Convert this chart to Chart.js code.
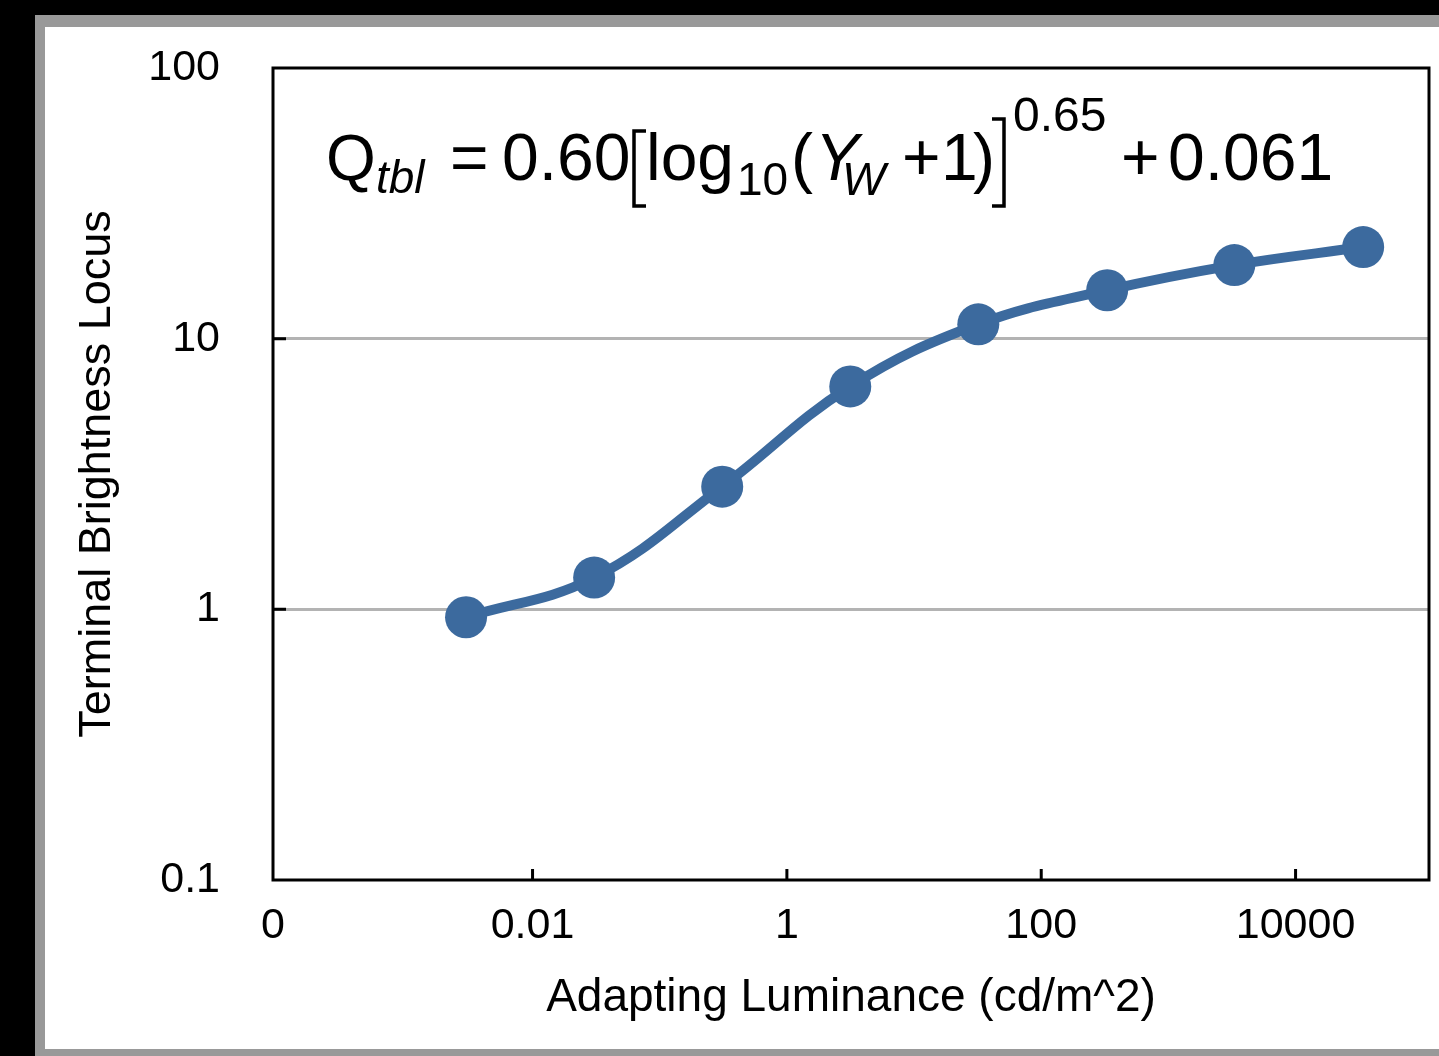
<!DOCTYPE html>
<html>
<head>
<meta charset="utf-8">
<script src="https://cdn.jsdelivr.net/npm/chart.js@4"></script>
<style>
  html, body { margin: 0; padding: 0; background: #000; }
  canvas { display: block; }
</style>
</head>
<body>
<canvas id="chart" width="1439" height="1056"></canvas>
<script>
// values
const luminance = [0.003, 0.0305, 0.31, 3.15, 32, 330, 3300, 34000];
const brightness = [0.935, 1.31, 2.84, 6.66, 11.3, 15.1, 18.7, 21.8];

const X_MIN = 9.1e-5;
const X_MAX = 1.12e5;
const xTicks = [X_MIN, 0.01, 1, 100, 10000];
const xTickLabels = ['0', '0.01', '1', '100', '10000'];
const yTicks = [0.1, 1, 10, 100];
const yTickLabels = ['0.1', '1', '10', '100'];
const yGridValues = [1, 10];

const FONT = '"Liberation Sans", Arial, Helvetica, sans-serif';
const BLUE = '#3c6a9e';

// panel behind the chart
const panel = {
  id: 'panel',
  beforeDraw(chart) {
    const ctx = chart.ctx;
    ctx.save();
    ctx.fillStyle = '#000';
    ctx.fillRect(0, 0, chart.width, chart.height);
    ctx.fillStyle = '#999';
    ctx.fillRect(35, 15, chart.width - 35, chart.height - 15);
    ctx.fillStyle = '#fff';
    ctx.fillRect(45, 27, chart.width - 45, 1049 - 27);
    ctx.restore();
  }
};

// plot box, inner tick marks and the equation
const frame = {
  id: 'frame',
  afterDraw(chart) {
    const ctx = chart.ctx;
    const a = chart.chartArea;
    const xs = chart.scales.x, ys = chart.scales.y;
    ctx.save();
    ctx.strokeStyle = '#000';
    ctx.lineWidth = 3;
    ctx.strokeRect(a.left, a.top, a.right - a.left, a.bottom - a.top);

    ctx.beginPath();
    yGridValues.forEach(v => {
      const y = ys.getPixelForValue(v);
      ctx.moveTo(a.left, y);
      ctx.lineTo(a.left + 13, y);
    });
    xTicks.slice(1).forEach(v => {
      const x = xs.getPixelForValue(v);
      ctx.moveTo(x, a.bottom);
      ctx.lineTo(x, a.bottom - 11);
    });
    ctx.stroke();

    // equation
    ctx.fillStyle = '#000';
    ctx.textBaseline = 'alphabetic';
    ctx.textAlign = 'left';
    const parts = [
      ['Q', 64, false, 326, 180],
      ['tbl', 46, true, 376, 193],
      ['=', 66, false, 450, 180],
      ['0.60', 66, false, 502, 180],
      ['log', 66, false, 646, 180],
      ['10', 46, false, 737, 195],
      ['(', 66, false, 791, 180],
      ['Y', 66, true, 815, 180],
      ['W', 46, true, 842, 195],
      ['+', 66, false, 902, 180],
      ['1', 66, false, 941, 180],
      [')', 66, false, 973, 180],
      ['0.65', 48, false, 1013, 131],
      ['+', 66, false, 1121, 180],
      ['0.061', 66, false, 1168, 180]
    ];
    parts.forEach(([t, size, italic, x, y]) => {
      ctx.font = (italic ? 'italic ' : '') + size + 'px ' + FONT;
      ctx.fillText(t, x, y);
    });
    ctx.lineWidth = 3.5;
    ctx.beginPath();
    ctx.moveTo(646, 131); ctx.lineTo(634, 131); ctx.lineTo(634, 206); ctx.lineTo(646, 206);
    ctx.moveTo(992, 119); ctx.lineTo(1004, 119); ctx.lineTo(1004, 206); ctx.lineTo(992, 206);
    ctx.stroke();
    ctx.restore();
  }
};

new Chart(document.getElementById('chart'), {
  type: 'line',
  data: {
    datasets: [{
      data: luminance.map((x, i) => ({ x: x, y: brightness[i] })),
      borderColor: BLUE,
      backgroundColor: BLUE,
      borderWidth: 10,
      tension: 0.4,
      pointRadius: 21,
      pointBorderWidth: 0,
      pointBackgroundColor: BLUE,
      clip: false
    }]
  },
  options: {
    responsive: false,
    animation: false,
    layout: { autoPadding: false, padding: { left: 0, top: 68, right: 10, bottom: 0 } },
    plugins: { legend: { display: false }, tooltip: { enabled: false } },
    scales: {
      x: {
        type: 'logarithmic',
        min: X_MIN,
        max: X_MAX,
        afterBuildTicks: s => { s.ticks = xTicks.map(v => ({ value: v })); },
        afterFit: s => { s.height = 176; s.paddingLeft = 0; s.paddingRight = 0; },
        grid: { display: false, drawTicks: false },
        border: { display: false },
        ticks: {
          autoSkip: false,
          maxRotation: 0,
          padding: 20,
          color: '#000',
          font: { family: FONT, size: 43 },
          callback: (v, i) => xTickLabels[i]
        },
        title: {
          display: true,
          text: 'Adapting Luminance (cd/m^2)',
          color: '#000',
          font: { family: FONT, size: 46 },
          padding: { top: 0, bottom: 30 }
        }
      },
      y: {
        type: 'logarithmic',
        min: 0.1,
        max: 100,
        afterBuildTicks: s => { s.ticks = yTicks.map(v => ({ value: v })); },
        afterFit: s => { s.width = 273; s.paddingTop = 0; s.paddingBottom = 0; },
        grid: {
          drawTicks: false,
          lineWidth: 3,
          color: c => (c.tick && yGridValues.includes(c.tick.value)) ? '#b3b3b3' : 'rgba(0,0,0,0)'
        },
        border: { display: false },
        ticks: {
          autoSkip: false,
          padding: 53,
          color: '#000',
          font: { family: FONT, size: 43 },
          callback: (v, i) => yTickLabels[i]
        },
        title: {
          display: true,
          text: 'Terminal Brightness Locus',
          color: '#000',
          font: { family: FONT, size: 45 },
          padding: { top: 71, bottom: 0 }
        }
      }
    }
  },
  plugins: [panel, frame]
});
</script>
</body>
</html>
